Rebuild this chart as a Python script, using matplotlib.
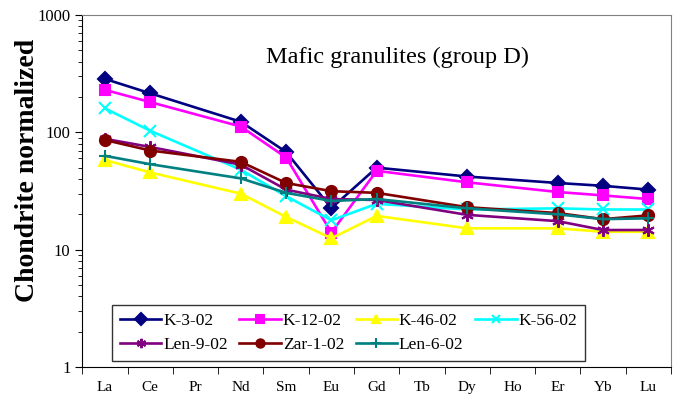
import numpy as np
import matplotlib
matplotlib.use("Agg")
import matplotlib.pyplot as plt
from matplotlib.ticker import LogLocator, NullFormatter, FixedLocator

plt.rcParams['font.family'] = ['Liberation Serif', 'DejaVu Serif']

# REE, chondrite normalized; Pr, Tb, Ho not analysed
elements = ["La", "Ce", "Pr", "Nd", "Sm", "Eu", "Gd", "Tb", "Dy", "Ho", "Er", "Yb", "Lu"]
nan = np.nan

k_3_02   = [285, 215, nan, 123, 68, 22.6, 50, nan, 42, nan, 37, 35, 32.5]
k_12_02  = [230, 181, nan, 112, 61, 14.0, 47, nan, 37.5, nan, 31, 29, 27]
k_46_02  = [58, 45.5, nan, 30, 19, 12.5, 19.4, nan, 15.2, nan, 15.2, 14.2, 14.2]
k_56_02  = [160, 103, nan, 48, 28.5, 17.8, 24.6, nan, 22, nan, 22.5, 22, 22]
len_9_02 = [88, 75, nan, 53, 32.5, 27, 26.5, nan, 19.8, nan, 17.5, 14.7, 14.7]
zar_1_02 = [86, 70, nan, 56, 37, 31.5, 30.5, nan, 23, nan, 20.5, 18.2, 19.6]
len_6_02 = [63, 53.5, nan, 40.5, 30.5, 26, 27, nan, 22.5, nan, 20, 18.2, 18.5]

series = [
    ("K-3-02",   k_3_02,   "#000080", "D", 7.5),
    ("K-12-02",  k_12_02,  "#FF00FF", "s", 7),
    ("K-46-02",  k_46_02,  "#FFFF00", "^", 8),
    ("K-56-02",  k_56_02,  "#00FFFF", "x", 8),
    ("Len-9-02", len_9_02, "#800080", (6, 2, 0), 9),
    ("Zar-1-02", zar_1_02, "#800000", "o", 8),
    ("Len-6-02", len_6_02, "#008080", "+", 9),
]

fig = plt.figure(figsize=(6.83, 3.97), dpi=100)
ax = fig.add_axes([0.1206, 0.0756, 0.8618, 0.8866])

x = np.arange(len(elements))
lines = []
for name, vals, col, mk, ms in series:
    v = np.array(vals, dtype=float)
    ok = ~np.isnan(v)
    ln, = ax.plot(x[ok], v[ok], color=col, lw=1.9, marker=mk, ms=ms,
                  mew=1.5, mec=col, mfc=col, label=name)
    lines.append(ln)

ax.set_yscale("log")
ax.set_ylim(1, 1000)
ax.set_xlim(-0.5, len(elements) - 0.5)

ax.yaxis.set_major_locator(LogLocator(base=10, numticks=10))
ax.yaxis.set_minor_locator(LogLocator(base=10, subs=np.arange(2, 10), numticks=10))
ax.yaxis.set_minor_formatter(NullFormatter())
ax.set_yticks([1, 10, 100, 1000])
ax.set_yticklabels(["1", "10", "100", "1000"])

ax.set_xticks(x)
ax.set_xticklabels(elements)
ax.xaxis.set_minor_locator(FixedLocator(np.arange(-0.5, len(elements), 1)))
ax.tick_params(axis="x", which="major", length=0, labelsize=11, pad=10)
ax.tick_params(axis="x", which="minor", length=5, direction="out")
ax.tick_params(axis="y", which="major", length=5, direction="out", labelsize=12)
ax.tick_params(axis="y", which="minor", length=3, direction="out")

for s in ("top", "right"):
    ax.spines[s].set_color("#808080")
for s in ("left", "bottom"):
    ax.spines[s].set_color("black")

fig.text(0.040, 0.570, "Chondrite normalized", rotation=90, ha="center",
         va="center", fontsize=20, fontweight="bold")
ax.text(0.535, 0.88, "Mafic granulites (group D)", transform=ax.transAxes,
        ha="center", va="center", fontsize=17.5)

# legend fills column by column, so interleave to get rows of four
order = [0, 4, 1, 5, 2, 6, 3]
leg = ax.legend([lines[i] for i in order], [series[i][0] for i in order],
                loc="lower left", bbox_to_anchor=(0.0503, 0.017, 0.8036, 0.156),
                mode="expand", ncol=4, fontsize=12.5, frameon=True, fancybox=False,
                borderpad=0.45, handlelength=2.4, handletextpad=0.1,
                labelspacing=0.45, borderaxespad=0, markerscale=0.75)
leg.get_frame().set_edgecolor("black")
leg.get_frame().set_linewidth(1.0)

fig.savefig("out.png", dpi=100)
